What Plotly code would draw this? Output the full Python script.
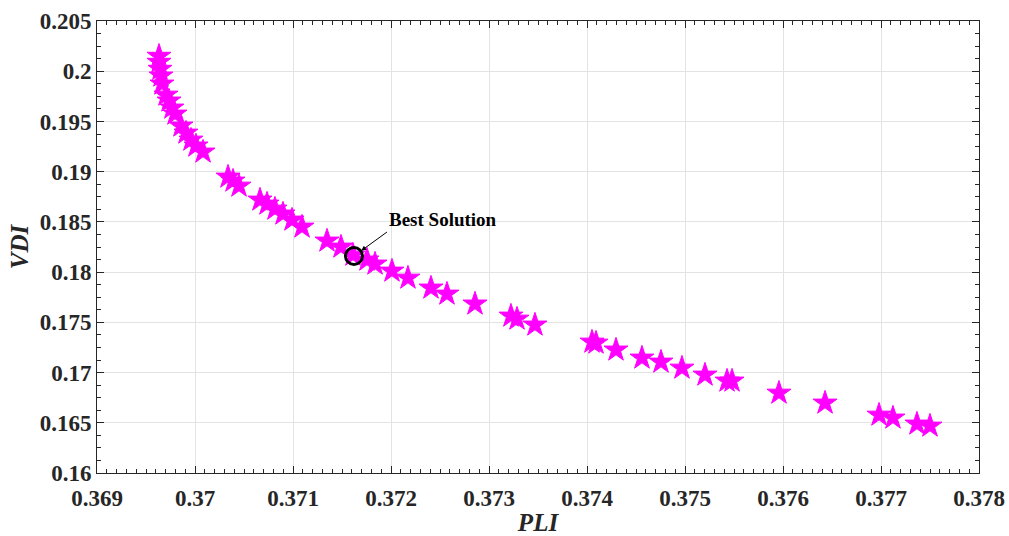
import plotly.graph_objects as go

# Pareto front data
pli = [0.369633, 0.369633, 0.369643, 0.369653, 0.369663, 0.369704, 0.369735, 0.369765,
       0.369796, 0.369857, 0.369908, 0.369959, 0.370010, 0.370082, 0.370337, 0.370388,
       0.370449, 0.370663, 0.370735, 0.370816, 0.370898, 0.370990, 0.371092, 0.371347,
       0.371490, 0.371612, 0.371755, 0.371837, 0.372010, 0.372173, 0.372408, 0.372571,
       0.372857, 0.373224, 0.373286, 0.373469, 0.374051, 0.374092, 0.374296, 0.374561,
       0.374755, 0.374969, 0.375204, 0.375429, 0.375480, 0.375959, 0.376429, 0.376980,
       0.377122, 0.377367, 0.377500]
vdi = [0.20150, 0.20090, 0.20020, 0.19953, 0.19873, 0.19763, 0.19704, 0.19634,
       0.19574, 0.19455, 0.19385, 0.19315, 0.19256, 0.19196, 0.18947, 0.18907,
       0.18857, 0.18718, 0.18678, 0.18628, 0.18579, 0.18519, 0.18449, 0.18310,
       0.18250, 0.18170, 0.18121, 0.18081, 0.18011, 0.17941, 0.17842, 0.17782,
       0.17683, 0.17563, 0.17533, 0.17474, 0.17304, 0.17294, 0.17225, 0.17145,
       0.17105, 0.17045, 0.16976, 0.16916, 0.16916, 0.16796, 0.16697, 0.16577,
       0.16548, 0.16488, 0.16468]

best_pli = [0.371622]
best_vdi = [0.18160]
best_label = "Best Solution"

x_ticks = [0.369, 0.370, 0.371, 0.372, 0.373, 0.374, 0.375, 0.376, 0.377, 0.378]
x_ticktext = ["0.369", "0.37", "0.371", "0.372", "0.373", "0.374", "0.375", "0.376", "0.377", "0.378"]
y_ticks = [0.160, 0.165, 0.170, 0.175, 0.180, 0.185, 0.190, 0.195, 0.200, 0.205]
y_ticktext = ["0.16", "0.165", "0.17", "0.175", "0.18", "0.185", "0.19", "0.195", "0.2", "0.205"]

FONT = "Liberation Serif, Times New Roman, serif"

fig = go.Figure()
fig.add_trace(go.Scatter(
    x=pli, y=vdi, mode="markers",
    marker=dict(symbol="star", size=18, color="#FF00FF",
                line=dict(color="#FF00FF", width=1)),
    showlegend=False, hoverinfo="x+y"))
fig.add_trace(go.Scatter(
    x=best_pli, y=best_vdi, mode="markers",
    marker=dict(symbol="circle-open", size=17, color="black",
                line=dict(color="black", width=3)),
    showlegend=False))

fig.add_annotation(
    x=best_pli[0], y=best_vdi[0], xref="x", yref="y",
    text="<b>" + best_label + "</b>",
    font=dict(family=FONT, size=19, color="black"),
    showarrow=True, arrowhead=2, arrowsize=1, arrowwidth=1, arrowcolor="black",
    standoff=9, ax=33, ay=-24, xanchor="left", yanchor="bottom")

axis_common = dict(
    showline=True, linecolor="#262626", linewidth=1, mirror="ticks",
    ticks="inside", ticklen=7, tickcolor="#262626", tickwidth=1,
    showgrid=True, gridcolor="#e3e3e3", gridwidth=1, zeroline=False,
    automargin=False,
    tickfont=dict(family=FONT, size=23, color="#262626", weight="bold"),
)

fig.update_xaxes(
    range=[0.369, 0.378], tickvals=x_ticks, ticktext=x_ticktext,
    ticklabelstandoff=4,
    minor=dict(dtick=0.0001, ticks="inside", ticklen=4, tickcolor="#262626", showgrid=False),
    title=dict(text="<b><i>PLI</i></b>", font=dict(family=FONT, size=25, color="#262626"), standoff=6),
    **axis_common)
fig.update_yaxes(
    range=[0.16, 0.205], tickvals=y_ticks, ticktext=y_ticktext,
    minor=dict(dtick=0.00125, ticks="inside", ticklen=4, tickcolor="#262626", showgrid=False),
    title=dict(text="<b><i>VDI</i></b>", font=dict(family=FONT, size=25, color="#262626"), standoff=3),
    **axis_common)

fig.update_layout(
    width=1009, height=536,
    margin=dict(l=97, r=30, t=21, b=63),
    paper_bgcolor="white", plot_bgcolor="white",
    font=dict(family=FONT),
)

fig.write_html("out.html")
